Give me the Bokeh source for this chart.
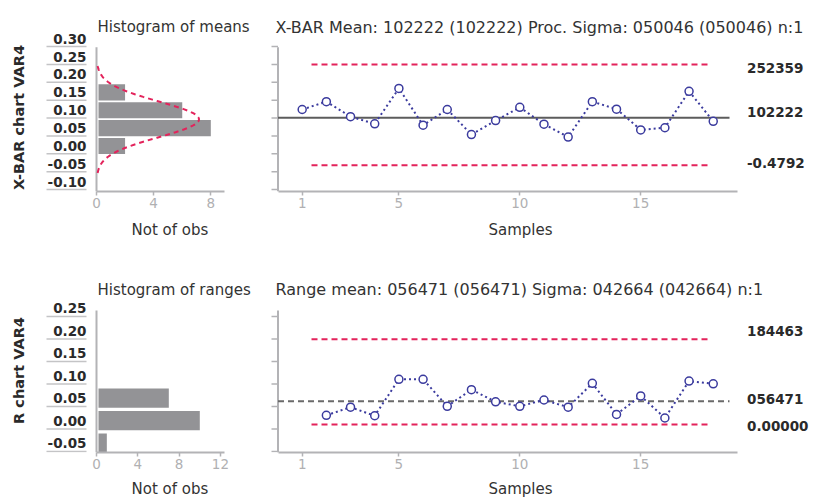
import numpy as np
from bokeh.plotting import figure
from bokeh.models import Range1d, LinearAxis, FixedTicker, Title
from bokeh.layouts import column, row
from bokeh.core.properties import value
from bokeh.embed import file_html
from bokeh.resources import INLINE

# ---------------- data ----------------
mean_bins = [0.30, 0.25, 0.20, 0.15, 0.10, 0.05, 0.00, -0.05, -0.10]
mean_bin_labels = ["0.30", "0.25", "0.20", "0.15", "0.10", "0.05", "0.00", "-0.05", "-0.10"]
mean_counts = [0, 0, 0, 2, 6, 8, 2, 0, 0]

range_bins = [0.25, 0.20, 0.15, 0.10, 0.05, 0.00, -0.05]
range_bin_labels = ["0.25", "0.20", "0.15", "0.10", "0.05", "0.00", "-0.05"]
range_counts = [0, 0, 0, 0, 7, 10, 1]

samples = list(range(1, 19))
xbar_values = [0.102, 0.124, 0.082, 0.062, 0.161, 0.058, 0.102, 0.032, 0.071,
               0.108, 0.061, 0.025, 0.124, 0.103, 0.045, 0.051, 0.153, 0.069]
range_samples = list(range(2, 19))
range_values = [0.012, 0.030, 0.011, 0.092, 0.092, 0.032, 0.069, 0.042, 0.032,
                0.046, 0.030, 0.083, 0.014, 0.055, 0.006, 0.088, 0.082]

xbar_limits = [0.228, 0.079, -0.054]          # UCL, centre, LCL
xbar_limit_labels = ["252359", "102222", "-0.4792"]
r_limits = [0.181, 0.043, -0.0085]
r_limit_labels = ["184463", "056471", "0.00000"]

fit_mean = 0.0745
fit_sigma = 0.050046
n_samples = 18
bin_width = 0.05

xbar_title = "X-BAR Mean: 102222 (102222) Proc. Sigma: 050046 (050046) n:1"
r_title = "Range mean: 056471 (056471) Sigma: 042664 (042664) n:1"

# ---------------- style ----------------
FONT_NAME = "DejaVu Sans"
FONT = value(FONT_NAME)
BAR = "#939396"
RED = "#e3235b"
NAVY = "#3b3b9e"
AXIS = "#b3b3b6"
TICKLAB = "#b0b0b2"
TXT = "#333333"
BOLD = "#2a2a2a"

# ---------------- geometry (page px; layout origin at page 0,0) ----------------
LEFT_W, RIGHT_W = 262, 568
TOP_H, BOT_H = 250, 253
TOP_FRAME_TOP, TOP_FRAME_BOT = 0, 191
BOT_FRAME_TOP, BOT_FRAME_BOT = 250, 452

TOP_PPU_Y, TOP_VAL_AT_TOP = 357.5, 0.4069
BOT_PPU_Y, BOT_VAL_AT_TOP = 450.0, 0.3782

HL_X0 = 96          # page x of count 0
TL_PPU_X = 14.29
BL_PPU_X = 10.33
CR_X0 = 277.5       # page x of sample 0
CR_PPU_X = 24.18


def yv(py, top):
    if top:
        return TOP_VAL_AT_TOP - (py - TOP_FRAME_TOP) / TOP_PPU_Y
    return BOT_VAL_AT_TOP - (py - BOT_FRAME_TOP) / BOT_PPU_Y


def make_fig(w, h, xr, yr, bottom_border):
    p = figure(width=w, height=h, x_range=xr, y_range=yr,
               output_backend="svg", toolbar_location=None,
               x_axis_location=None, y_axis_location=None,
               min_border_left=0, min_border_right=0,
               min_border_top=0, min_border_bottom=bottom_border)
    p.outline_line_color = None
    p.background_fill_color = "white"
    p.border_fill_color = "white"
    p.grid.visible = False
    return p


def add_x_axis(p, bounds, ticks, label, label_offset, label_standoff):
    ax = LinearAxis(bounds=bounds, ticker=FixedTicker(ticks=ticks))
    ax.axis_line_color = AXIS
    ax.axis_line_width = 2
    ax.major_tick_line_color = AXIS
    ax.major_tick_line_width = 1.5
    ax.major_tick_out = 4
    ax.major_tick_in = 0
    ax.minor_tick_line_color = None
    ax.major_label_standoff = 2
    ax.major_label_text_font = FONT_NAME
    ax.major_label_text_font_size = "13.5px"
    ax.major_label_text_color = TICKLAB
    p.add_layout(ax, "below")
    t = Title(text=label, align="left", offset=label_offset, standoff=label_standoff,
              text_font=FONT_NAME, text_font_size="15px", text_font_style="normal",
              text_color=TXT)
    p.add_layout(t, "below")


def histogram(top, bins, labels, counts, ppu_x, ticks, title, side_label,
              sep_offset, bar_h, axis_top_py, frame_bot_py, h, bborder, x_end_count,
              label_standoff):
    x_start = (0 - HL_X0) / ppu_x
    xr = Range1d(x_start, x_start + LEFT_W / ppu_x)
    yr = Range1d(yv(frame_bot_py, top), yv(TOP_FRAME_TOP if top else BOT_FRAME_TOP, top))
    p = make_fig(LEFT_W, h, xr, yr, bborder)

    def dx(px):
        return (px - HL_X0) / ppu_x

    # title
    p.text(x=[dx(97)], y=[yv(26.7 if top else 289.3, top)], text=[title],
           text_font=FONT, text_font_size="15px", text_color=TXT,
           text_baseline="alphabetic", text_align="left")
    # rotated side label
    p.text(x=[dx(18.5)], y=[yv(117 if top else 370, top)], text=[side_label],
           angle=np.pi / 2, text_font=FONT, text_font_size="14.5px",
           text_font_style="bold", text_color=BOLD,
           text_baseline="middle", text_align="center")
    # bin labels
    p.text(x=[dx(86)] * len(bins), y=bins, text=labels,
           text_font=FONT, text_font_size="13.5px", text_font_style="bold",
           text_color=BOLD, text_baseline="middle", text_align="right")
    # separators under labels
    sep_y = [b - sep_offset for b in bins]
    p.segment(x0=[dx(46)] * len(bins), y0=sep_y, x1=[dx(86)] * len(bins), y1=sep_y,
              line_color="#c4c4c6", line_width=1.5)
    # vertical axis line
    p.segment(x0=[0], y0=[yv(frame_bot_py, top)], x1=[0], y1=[yv(axis_top_py, top)],
              line_color=AXIS, line_width=2)
    # bars
    yb = [b for b, c in zip(bins, counts) if c > 0]
    cb = [c for c in counts if c > 0]
    p.hbar(y=yb, left=2 / ppu_x, right=cb, height=bar_h, fill_color=BAR, line_color=None)
    add_x_axis(p, (0, x_end_count), ticks, "Not of obs", 132 - 1, label_standoff)
    return p


tl = histogram(True, mean_bins, mean_bin_labels, mean_counts, TL_PPU_X, [0, 4, 8],
               "Histogram of means", "X-BAR chart VAR4", 0.022, 0.045,
               46.7, TOP_FRAME_BOT, TOP_H, TOP_H - (TOP_FRAME_BOT - TOP_FRAME_TOP),
               8.96, 17)
# fitted normal curve over the histogram of means
cy = np.linspace(fit_mean - 3 * fit_sigma, fit_mean + 3 * fit_sigma, 80)
cx = n_samples * bin_width / (fit_sigma * np.sqrt(2 * np.pi)) * np.exp(-0.5 * ((cy - fit_mean) / fit_sigma) ** 2)
tl.line(x=cx, y=cy, line_color=RED, line_width=2, line_dash="5 4")

bl = histogram(False, range_bins, range_bin_labels, range_counts, BL_PPU_X, [0, 4, 8, 12],
               "Histogram of ranges", "R chart VAR4", 0.0185, 0.043,
               310, BOT_FRAME_BOT, BOT_H, BOT_H - (BOT_FRAME_BOT - BOT_FRAME_TOP),
               12.4, 12)


def control(top, xs, ys, limits, limit_labels, label_offsets, title, ticks_y,
            axis_top_py, frame_bot_py, h, bborder, cl_dashed, label_standoff):
    x_start = (LEFT_W - CR_X0) / CR_PPU_X
    xr = Range1d(x_start, x_start + RIGHT_W / CR_PPU_X)
    yr = Range1d(yv(frame_bot_py, top), yv(TOP_FRAME_TOP if top else BOT_FRAME_TOP, top))
    p = make_fig(RIGHT_W, h, xr, yr, bborder)

    def dx(px):
        return (px - CR_X0) / CR_PPU_X

    # vertical axis line with small outward ticks (no labels)
    p.segment(x0=[0], y0=[yv(frame_bot_py, top)], x1=[0], y1=[yv(axis_top_py, top)],
              line_color=AXIS, line_width=2)
    p.segment(x0=[dx(271)] * len(ticks_y), y0=ticks_y, x1=[0] * len(ticks_y), y1=ticks_y,
              line_color=AXIS, line_width=1.5)

    p.text(x=[dx(275)], y=[yv(26.7 if top else 289.3, top)], text=[title],
           text_font=FONT, text_font_size="16px", text_color=TXT,
           text_baseline="alphabetic", text_align="left")

    ucl, cl, lcl = limits
    p.segment(x0=[dx(311), dx(311)], y0=[ucl, lcl], x1=[dx(710), dx(710)], y1=[ucl, lcl],
              line_color=RED, line_width=2, line_dash="6 4")
    if cl_dashed:
        p.segment(x0=[0], y0=[cl], x1=[dx(729)], y1=[cl],
                  line_color="#6a6a6a", line_width=2, line_dash="6 4")
    else:
        p.segment(x0=[0], y0=[cl], x1=[dx(729)], y1=[cl],
                  line_color="#5c5c5c", line_width=2)

    p.text(x=[dx(746.5)] * 3, y=limits, text=limit_labels, y_offset=label_offsets,
           text_font=FONT, text_font_size="13.5px", text_font_style="bold",
           text_color=BOLD, text_baseline="middle", text_align="left")

    p.line(x=xs, y=ys, line_color=NAVY, line_width=2, line_dash="2 3")
    p.scatter(x=xs, y=ys, marker="circle", size=8, fill_color="white",
              line_color=NAVY, line_width=1.5)
    add_x_axis(p, (0, 19.0), [1, 5, 10, 15], "Samples", 489 - LEFT_W - 1, label_standoff)
    return p


top_ticks = [b - 0.022 for b in mean_bins]
bot_ticks = [b - 0.0185 for b in range_bins]

tr = control(True, samples, xbar_values, xbar_limits, xbar_limit_labels, [4, -6, -2],
             xbar_title, top_ticks, 46.7, TOP_FRAME_BOT, TOP_H,
             TOP_H - (TOP_FRAME_BOT - TOP_FRAME_TOP), False, 17)
br = control(False, range_samples, range_values, r_limits, r_limit_labels, [-8.5, -2.5, 1],
             r_title, bot_ticks, 310, BOT_FRAME_BOT, BOT_H,
             BOT_H - (BOT_FRAME_BOT - BOT_FRAME_TOP), True, 12)

layout = column(row(tl, tr), row(bl, br))

with open("out.html", "w") as f:
    f.write(file_html(layout, INLINE))
